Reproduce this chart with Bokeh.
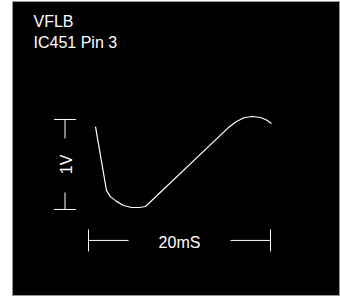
import math
from bokeh.plotting import figure
from bokeh.embed import file_html
from bokeh.resources import INLINE
from bokeh.core.properties import value

# --- data (time in ms, voltage in V) ---
trace_t = [0.77, 1.98, 2.42, 3.08, 3.85, 4.73, 5.60, 6.26, 15.38, 16.26, 17.14, 18.02, 18.90, 19.56, 20.11]
trace_v = [0.92, 0.21, 0.14, 0.09, 0.044, 0.022, 0.022, 0.033, 0.91, 0.978, 1.022, 1.033, 1.022, 0.994, 0.956]
title_lines = ["VFLB", "IC451 Pin 3"]
time_scale_ms = 20
time_scale_label = "20mS"
volt_scale_v = 1
volt_scale_label = "1V"

FONT = value("Liberation Sans")

p = figure(width=328, height=295, x_range=(-8.35, 27.69), y_range=(-0.967, 2.311),
           output_backend="svg", toolbar_location=None, x_axis_type=None, y_axis_type=None,
           min_border=0, background_fill_color="black", border_fill_color="black",
           outline_line_color="#999999", margin=(1, 0, 0, 12))
p.grid.visible = False

# trace
p.line(trace_t, trace_v, line_color="white", line_width=1.2)

# title text
p.text(x=[-6.04, -6.04], y=[2.09, 1.86], text=title_lines, text_color="white",
       text_font=FONT, text_font_size="16px", text_baseline="alphabetic", text_align="left")

# time scale bar
ty = -0.344
cap = 0.122
gap_t = 4.4
p.segment(x0=[0, time_scale_ms - gap_t, 0, time_scale_ms],
          y0=[ty, ty, ty - cap, ty - cap],
          x1=[gap_t, time_scale_ms, 0, time_scale_ms],
          y1=[ty, ty, ty + cap, ty + cap], line_color="white", line_width=1)
p.text(x=[time_scale_ms / 2], y=[ty - 0.02], text=[time_scale_label], text_color="white",
       text_font=FONT, text_font_size="16px", text_baseline="middle", text_align="center")

# voltage scale bar
vx = -2.58
capx = 1.2
gap_v = 0.21
p.segment(x0=[vx, vx, vx - capx, vx - capx],
          y0=[0, volt_scale_v - gap_v, 0, volt_scale_v],
          x1=[vx, vx, vx + capx, vx + capx],
          y1=[0.189, volt_scale_v, 0, volt_scale_v], line_color="white", line_width=1)
p.text(x=[vx + 0.15], y=[volt_scale_v / 2], text=[volt_scale_label], text_color="white",
       text_font=FONT, text_font_size="16px", text_baseline="middle", text_align="center",
       angle=math.pi / 2)

open("out.html", "w").write(file_html(p, INLINE))
